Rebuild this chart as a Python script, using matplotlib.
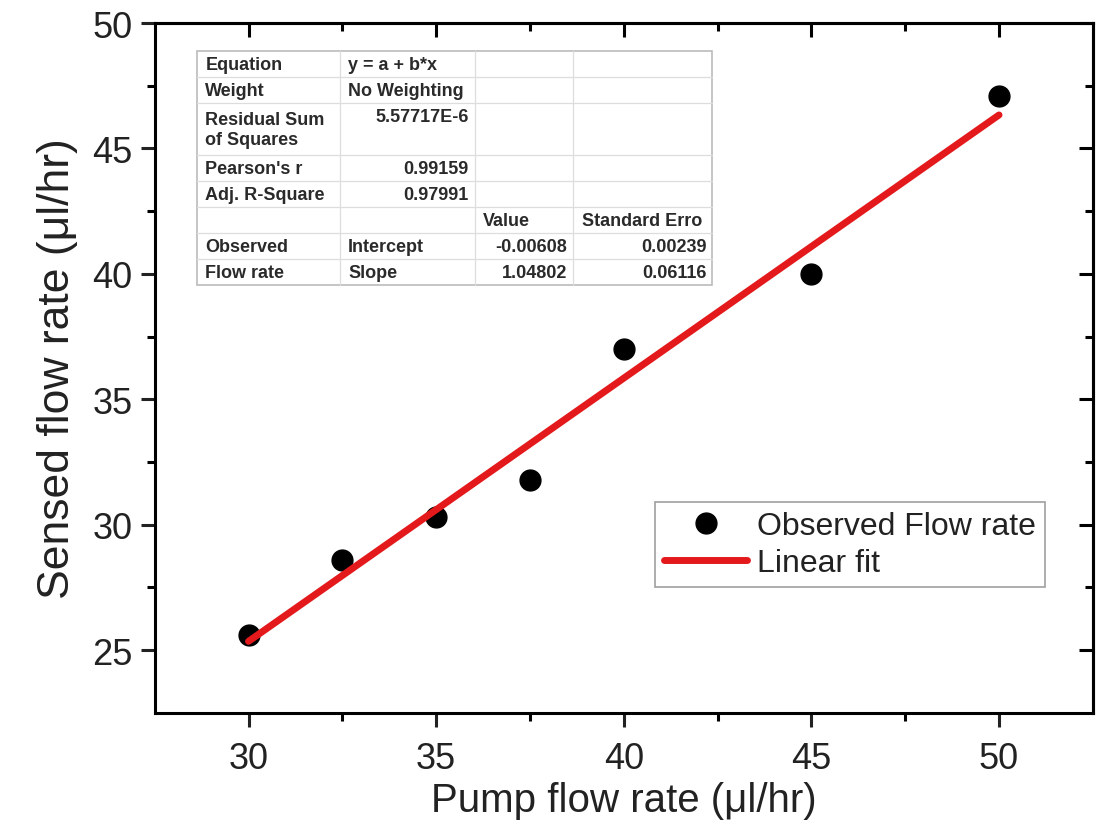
import matplotlib
matplotlib.use('Agg')
import matplotlib.pyplot as plt
import numpy as np
from matplotlib.patches import Rectangle

# data
pump = [30, 32.5, 35, 37.5, 40, 45, 50]
sensed = [25.6, 28.6, 30.3, 31.8, 37.0, 40.0, 47.1]

x_ticks = [30, 35, 40, 45, 50]
y_ticks = [25, 30, 35, 40, 45, 50]

# fit report table (rows, row heights in units)
table_rows = [
    ["Equation", "y = a + b*x", "", ""],
    ["Weight", "No Weighting", "", ""],
    ["Residual Sum\nof Squares", "5.57717E-6", "", ""],
    ["Pearson's r", "0.99159", "", ""],
    ["Adj. R-Square", "0.97991", "", ""],
    ["", "", "Value", "Standard Erro"],
    ["Observed", "Intercept", "-0.00608", "0.00239"],
    ["Flow rate", "Slope", "1.04802", "0.06116"],
]
row_units = [1, 1, 2, 1, 1, 1, 1, 1]

plt.rcParams['font.family'] = ['Liberation Sans', 'DejaVu Sans']
plt.rcParams['axes.linewidth'] = 2.2

fig = plt.figure(figsize=(11.05, 8.29), dpi=100)
ax = fig.add_axes([0.140, 0.139, 0.849, 0.832])

ax.plot(pump, sensed, 'o', color='black', markersize=15, zorder=3,
        label='Observed Flow rate')
b, a = np.polyfit(pump, sensed, 1)
xf = np.array([min(pump), max(pump)])
ax.plot(xf, a + b * xf, color='#e3191c', linewidth=5, zorder=4,
        solid_capstyle='round', label='Linear fit')

ax.set_xlim(27.5, 52.5)
ax.set_ylim(22.5, 50)
ax.set_xticks(x_ticks)
ax.set_yticks(y_ticks)
ax.set_xticks(np.arange(32.5, 52.5, 5), minor=True)
ax.set_yticks(np.arange(27.5, 50, 5), minor=True)
ax.tick_params(which='major', direction='out', length=10, width=2.2,
               labelsize=26, colors='#222222')
ax.tick_params(axis='x', which='major', pad=10)
ax.tick_params(axis='y', which='major', pad=6)
ax.tick_params(which='minor', direction='out', length=6, width=2.2)

# inward ticks on top and right
top = ax.secondary_xaxis('top')
top.set_xticks(x_ticks)
top.set_xticks(np.arange(32.5, 52.5, 5), minor=True)
top.tick_params(which='major', direction='in', length=10, width=2.2, labeltop=False)
top.tick_params(which='minor', direction='in', length=6, width=2.2)
right = ax.secondary_yaxis('right')
right.set_yticks(y_ticks)
right.set_yticks(np.arange(27.5, 50, 5), minor=True)
right.tick_params(which='major', direction='in', length=10, width=2.2, labelright=False)
right.tick_params(which='minor', direction='in', length=6, width=2.2)

ax.set_xlabel('Pump flow rate (\u03bcl/hr)', fontsize=29, color='#222222', labelpad=4)
ax.set_ylabel('Sensed flow rate (\u03bcl/hr)', fontsize=32, color='#222222', labelpad=10)

leg = ax.legend(loc='upper left', bbox_to_anchor=(0.533, 0.306), fontsize=23,
                frameon=True, fancybox=False, handlelength=2.6, handletextpad=0.3,
                labelspacing=0.2, borderpad=0.3, borderaxespad=0)
leg.get_frame().set_edgecolor('#888888')
leg.get_frame().set_linewidth(1.2)
for t in leg.get_texts():
    t.set_color('#222222')

# table drawn in axes coordinates
col_edges = [0.045, 0.197, 0.341, 0.446, 0.594]
t_top, t_bot = 0.959, 0.620
unit = (t_top - t_bot) / sum(row_units)
ax.add_patch(Rectangle((col_edges[0], t_bot), col_edges[-1] - col_edges[0],
                       t_top - t_bot, transform=ax.transAxes, facecolor='white',
                       edgecolor='#bbbbbb', linewidth=1.2, zorder=5))
grid_kw = dict(transform=ax.transAxes, color='#dddddd', linewidth=0.9, zorder=5)
for xe in col_edges[1:-1]:
    ax.plot([xe, xe], [t_bot, t_top], **grid_kw)


def is_num(s):
    try:
        float(s)
        return True
    except ValueError:
        return False


y = t_top
for row, u in zip(table_rows, row_units):
    yc_full = y - u * unit / 2
    yc_first = y - unit / 2
    for j, txt in enumerate(row):
        if not txt:
            continue
        yc = yc_full if '\n' in txt else yc_first
        if is_num(txt):
            ax.text(col_edges[j + 1] - 0.006, yc, txt, ha='right', va='center',
                    transform=ax.transAxes, fontsize=13, fontweight='bold',
                    color='#2a2a2a', zorder=6, linespacing=1.25)
        else:
            ax.text(col_edges[j] + 0.009, yc, txt, ha='left', va='center',
                    transform=ax.transAxes, fontsize=13, fontweight='bold',
                    color='#2a2a2a', zorder=6, linespacing=1.25)
    y -= u * unit
    if y > t_bot + 1e-6:
        ax.plot([col_edges[0], col_edges[-1]], [y, y], **grid_kw)

fig.savefig('out.png', dpi=100)
